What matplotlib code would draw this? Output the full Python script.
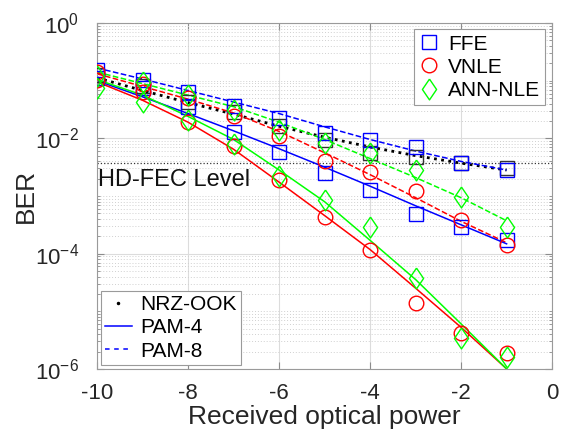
import numpy as np
import matplotlib
matplotlib.use('Agg')
import matplotlib.pyplot as plt
from matplotlib.lines import Line2D
from matplotlib.ticker import FixedLocator, NullFormatter

plt.rcParams['font.family'] = ['Liberation Sans', 'DejaVu Sans']
plt.rcParams['mathtext.fontset'] = 'custom'
plt.rcParams['mathtext.rm'] = 'Liberation Sans'
plt.rcParams['mathtext.it'] = 'Liberation Sans'

# received optical power
power = np.array([-10, -9, -8, -7, -6, -5, -4, -3, -2, -1])

# measured points, log10(BER)
ffe_pam8 = [-0.82, -0.99, -1.20, -1.44, -1.65, -1.91, -2.03, -2.15, -2.43, -2.55]
vnle_pam8 = [-0.85, -1.06, -1.30, -1.61, -1.96, -2.39, -2.58, -2.91, -3.41, -3.85]
ann_pam8 = [-0.92, -1.02, -1.25, -1.51, -1.85, -2.08, -2.25, -2.55, -3.02, -3.54]
ffe_pam4 = [-0.95, -1.13, -1.46, -1.89, -2.24, -2.60, -2.89, -3.31, -3.54, -3.76]
vnle_pam4 = [-0.99, -1.20, -1.72, -2.13, -2.72, -3.36, -3.93, -4.85, -5.37, -5.72]
ann_pam4 = [-1.13, -1.37, -1.68, -2.10, -2.65, -3.07, -3.54, -4.42, -5.46, -5.79]
nrz_ook = [-0.90, -1.09, -1.37, -1.54, -1.79, -2.03, -2.25, -2.32, -2.43, -2.51]

# fitted curves, log10(BER)
fit_ffe_pam8 = [-0.78, -0.97, -1.17, -1.37, -1.57, -1.80, -2.02, -2.22, -2.40, -2.55]
fit_vnle_pam8 = [-0.88, -1.10, -1.32, -1.56, -1.88, -2.25, -2.63, -3.03, -3.44, -3.81]
fit_ann_pam8 = [-0.85, -1.05, -1.25, -1.45, -1.72, -2.02, -2.35, -2.68, -3.03, -3.43]
fit_ffe_pam4 = [-1.00, -1.28, -1.57, -1.87, -2.18, -2.50, -2.83, -3.17, -3.50, -3.83]
fit_vnle_pam4 = [-1.02, -1.34, -1.72, -2.19, -2.76, -3.34, -3.93, -4.60, -5.28, -6.00]
fit_ann_pam4 = [-0.98, -1.25, -1.62, -2.02, -2.55, -3.10, -3.77, -4.45, -5.22, -6.00]
fit_nrz = [-0.95, -1.17, -1.38, -1.58, -1.79, -1.98, -2.15, -2.30, -2.43, -2.55]

hd_fec = 3.8e-3

blue, red, green = '#0000ff', '#ff0000', '#00ff00'
diamond = [(0, 1), (0.68, 0), (0, -1), (-0.68, 0), (0, 1)]

fig = plt.figure(figsize=(5.68, 4.36), dpi=100)
ax = fig.add_axes([0.171, 0.154, 0.801, 0.793])

ax.axhline(hd_fec, color='#333333', ls=':', lw=0.9, zorder=1)

def pts(y):
    return 10.0 ** np.array(y)

# fits
ax.plot(power, pts(fit_nrz), color='k', ls=(0, (1, 1.6)), lw=2.0, zorder=2)
ax.plot(power, pts(fit_ffe_pam8), color=blue, ls='--', lw=1.1, zorder=2)
ax.plot(power, pts(fit_vnle_pam8), color=red, ls='--', lw=1.1, zorder=2)
ax.plot(power, pts(fit_ann_pam8), color=green, ls='--', lw=1.1, zorder=2)
ax.plot(power, pts(fit_ffe_pam4), color=blue, lw=1.1, zorder=2)
ax.plot(power, pts(fit_vnle_pam4), color=red, lw=1.1, zorder=2)
ax.plot(power, pts(fit_ann_pam4), color=green, lw=1.1, zorder=2)

# markers
mk = dict(ls='none', mfc='none', mew=1.0, zorder=3)
ax.plot(power, pts(nrz_ook), marker='s', ms=9.5, mec='#333333', **mk)
for y in (ffe_pam8, ffe_pam4):
    ax.plot(power, pts(y), marker='s', ms=9.5, mec=blue, **mk)
for y in (vnle_pam8, vnle_pam4):
    ax.plot(power, pts(y), marker='o', ms=10.5, mec=red, **mk)
for y in (ann_pam8, ann_pam4):
    ax.plot(power, pts(y), marker=diamond, ms=15, mec=green, **mk)

ax.set_yscale('log')
ax.set_xlim(-10, 0)
ax.set_ylim(1e-6, 1)
ax.set_xticks([-10, -8, -6, -4, -2, 0])
ax.set_xticklabels(['-10', '-8', '-6', '-4', '-2', '0'])
ax.yaxis.set_major_locator(FixedLocator([1e-6, 1e-4, 1e-2, 1]))
ax.set_yticklabels([r'$\mathregular{10^{-6}}$', r'$\mathregular{10^{-4}}$',
                    r'$\mathregular{10^{-2}}$', r'$\mathregular{10^{0}}$'])
minor = [m * 10.0 ** k for k in range(-6, 0) for m in range(1, 10)
         if not (m == 1 and k % 2 == 0)]
ax.yaxis.set_minor_locator(FixedLocator(minor))
ax.yaxis.set_minor_formatter(NullFormatter())

ax.grid(True, which='major', color='#dcdcdc', lw=0.8, ls='-')
ax.grid(True, which='minor', axis='y', color='#d0d0d0', lw=0.7, ls=(0, (1, 2)))
ax.set_axisbelow(True)
ax.tick_params(which='both', direction='in', top=True, right=True,
               color='#8c8c8c', labelsize=16, labelcolor='#262626')
ax.tick_params(which='major', length=5)
ax.tick_params(which='minor', length=2.5)
ax.tick_params(axis='x', pad=10)
ax.tick_params(axis='y', pad=13)
for s in ax.spines.values():
    s.set_color('#9a9a9a')
    s.set_linewidth(0.8)

ax.set_xlabel('Received optical power', fontsize=19, color='#262626', labelpad=1)
ax.set_ylabel('BER', fontsize=19, color='#262626', labelpad=-2)

ax.text(-9.98, hd_fec * 0.78, 'HD-FEC Level', fontsize=17, va='top', ha='left',
        color='#111111', zorder=4)

h1 = [Line2D([], [], ls='none', marker='s', ms=9.5, mfc='none', mec=blue),
      Line2D([], [], ls='none', marker='o', ms=10.5, mfc='none', mec=red),
      Line2D([], [], ls='none', marker=diamond, ms=15, mfc='none', mec=green)]
leg1 = ax.legend(h1, ['FFE', 'VNLE', 'ANN-NLE'], loc='upper right',
                 bbox_to_anchor=(0.985, 0.982), fontsize=15, fancybox=False,
                 edgecolor='#9a9a9a', framealpha=1, handlelength=1.0,
                 handletextpad=0.4, borderpad=0.25, labelspacing=0.2,
                 borderaxespad=0)
leg1.get_frame().set_linewidth(0.8)
ax.add_artist(leg1)

h2 = [Line2D([], [], ls='none', marker='.', ms=3, color='k'),
      Line2D([], [], color=blue, lw=1.1),
      Line2D([], [], color=blue, lw=1.1, ls=(0, (3, 3)))]
leg2 = ax.legend(h2, ['NRZ-OOK', 'PAM-4', 'PAM-8'], loc='lower left',
                 bbox_to_anchor=(0.008, 0.012), fontsize=15, fancybox=False,
                 edgecolor='#9a9a9a', framealpha=1, handlelength=1.3,
                 handletextpad=0.4, borderpad=0.2, labelspacing=0.2,
                 borderaxespad=0)
leg2.get_frame().set_linewidth(0.8)

fig.savefig('out.png', dpi=100, facecolor='white')
